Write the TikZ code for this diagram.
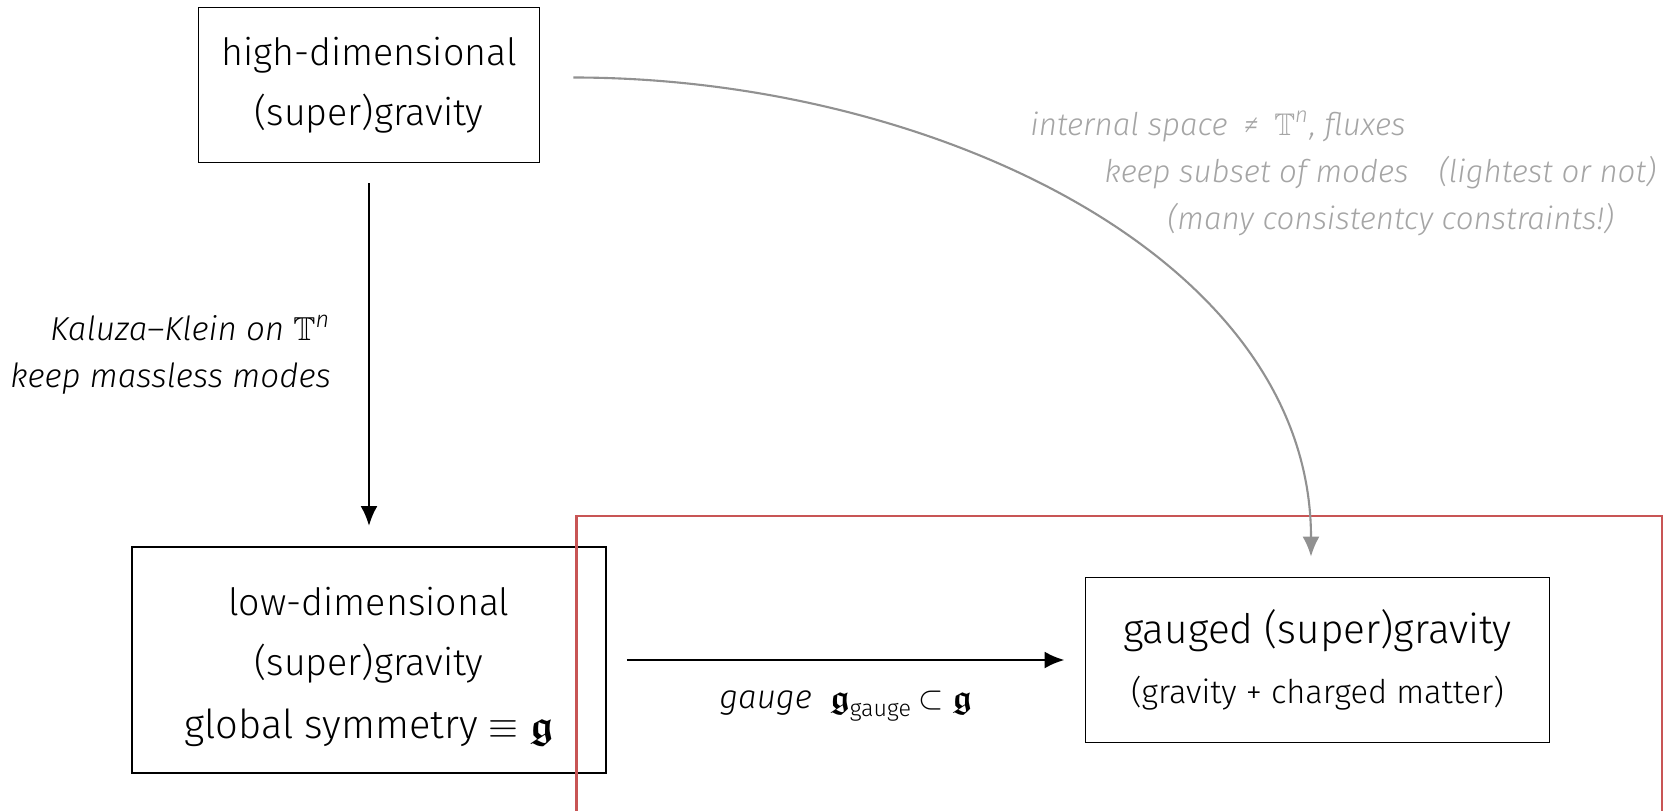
\documentclass[tikz,border=0pt]{standalone}
\usepackage{amsmath, amssymb}
\usepackage{fontspec}
\IfFontExistsTF{Fira Sans Light}{\setmainfont{Fira Sans Light}}{\setmainfont{Fira Sans}}
\usepackage{tikz}
\usetikzlibrary{positioning}
\usetikzlibrary{arrows.meta}
\usepackage{xcolor}
\definecolor{fluxgray}{RGB}{165,165,165}
\definecolor{curvegray}{RGB}{145,145,145}
\definecolor{boxred}{RGB}{200,85,85}

\tikzset{
  theory/.style={draw, line width=0.5pt, align=center, font=\fontsize{10.7}{17}\selectfont},
  steplabel/.style={font=\itshape\fontsize{9.45}{13.4}\selectfont},
}

\begin{document}
\begin{tikzpicture}[>={Latex[length=2mm,width=1.7mm]},shorten >=0.2cm,shorten <=0.2cm,node distance=5.75cm,on grid,auto]
   \useasboundingbox (0,0) rectangle (16.65,-8.11);
   \node[theory, minimum width=3.41cm, minimum height=1.55cm] (high) at (3.69,-0.85) {high-dimensional\\(super)gravity};
   \node[theory, minimum width=4.74cm, minimum height=2.26cm] (low) [below=of high] {\rule{0pt}{4.2mm}low-dimensional\\(super)gravity\\[0.3mm]{\fontsize{11.35}{17}\selectfont global symmetry $\equiv$ $\boldsymbol{\mathfrak{g}}$}};
   \node[theory, minimum width=4.64cm, minimum height=1.65cm] (gauged) [right=9.485cm of low] {{\fontsize{11.55}{17}\selectfont gauged (super)gravity}\\{\fontsize{9.3}{14}\selectfont (gravity + charged matter)}};
   % region of the gauged theories
   \draw[boxred, line width=0.7pt] (5.766,-5.16) rectangle (16.62,-8.6);
    \path[->, line width=0.8pt] 
    (high) edge node[swap, steplabel, align=right, xshift=-2.5mm] {Kaluza–Klein on $\mathbb{T}^{\text{n}}$\\keep massless modes} (low)
    (low) edge node[swap, steplabel, yshift=-1.8mm] {gauge\ \ $\boldsymbol{\mathfrak{g}}_{\text{\upshape gauge}}\,{\subset}\;\boldsymbol{\mathfrak{g}}$} (gauged);
   \draw[->, curvegray, line width=0.6pt, shorten <=0.33cm] ([yshift=0.75mm]high.east) .. controls +(3.9,0) and +(0,3.2) .. ([xshift=-0.65mm]gauged.north);
   \node[steplabel, text=fluxgray, align=left, anchor=north west, font=\itshape\fontsize{8.9}{13.4}\selectfont] (flux) at (10.18,-0.98) {internal space\enspace≠\enspace$\mathbb{T}^{\text{n}}$, fluxes\\
      \hspace*{0.74cm}keep subset of modes\hspace{3mm}(lightest or not)\\
      \hspace*{1.37cm}(many consistentcy constraints!)};
\end{tikzpicture}
\end{document}
